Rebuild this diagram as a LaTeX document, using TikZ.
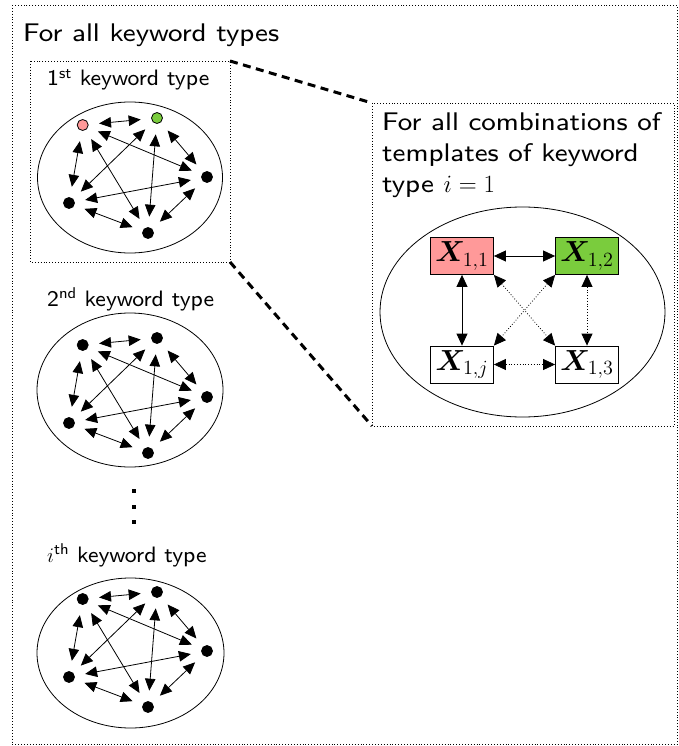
\documentclass[tikz,border=0pt]{standalone}
\usepackage{fontspec}
\usepackage{amsmath,bm}
\newfontfamily\lmsseight{lmsans8-regular.otf}
\newfontfamily\lmsswide{lmsans8-regular.otf}[FakeStretch=1.07]
\usetikzlibrary{arrows.meta}
\definecolor{pinkn}{RGB}{255,153,153}
\definecolor{greenn}{RGB}{122,204,61}
\newcommand\xlab[1]{\scalebox{1.4}{$\bm{X}_{#1}$}}
\tikzset{
  dotn/.style={circle,draw=black,line width=0.8pt,minimum size=11pt,inner sep=0pt,fill=black},
  edgen/.style={{Triangle[length=12pt,width=10.5pt]}-{Triangle[length=12pt,width=10.5pt]},line width=0.8pt,shorten <=10.5pt,shorten >=10.5pt},
  bigedge/.style={{Triangle[length=12pt,width=11pt]}-{Triangle[length=12pt,width=11pt]},line width=0.8pt},
  dotedge/.style={bigedge,dotted},
  frame/.style={draw,dotted,line width=0.9pt},
  zoomline/.style={draw,line width=3pt,dash pattern=on 8pt off 5.5pt},
  xbox/.style={draw,line width=0.8pt,minimum width=63pt,minimum height=37pt,inner sep=0pt,font=\fontsize{20.74}{25}\selectfont},
  ttl/.style={anchor=base west,inner sep=0pt,font=\lmsswide\fontsize{25.5}{30}\selectfont},
  rtl/.style={anchor=base west,inner sep=0pt,font=\lmsswide\fontsize{25.5}{30}\selectfont},
  ptl/.style={anchor=base west,inner sep=0pt,font=\lmsseight\fontsize{22.3}{26}\selectfont},
  ell/.style={draw,line width=0.8pt}
}
\newcommand\kwgraph[4]{%
  \node[dotn,fill=#3] (#1a) at (82.7,{125+#2}) {};
  \node[dotn,fill=#4] (#1b) at (157,{118+#2}) {};
  \node[dotn] (#1c) at (207,{177+#2}) {};
  \node[dotn] (#1d) at (69,{203+#2}) {};
  \node[dotn] (#1e) at (148,{233+#2}) {};
  \draw[edgen] (#1a) -- (#1b);
  \draw[edgen] (#1a) -- (#1c);
  \draw[edgen] (#1a) -- (#1d);
  \draw[edgen] (#1a) -- (#1e);
  \draw[edgen] (#1b) -- (#1c);
  \draw[edgen] (#1b) -- (#1d);
  \draw[edgen] (#1b) -- (#1e);
  \draw[edgen] (#1c) -- (#1d);
  \draw[edgen] (#1c) -- (#1e);
  \draw[edgen] (#1d) -- (#1e);
}
\begin{document}
\begin{tikzpicture}[x=1pt,y=-1pt]
\useasboundingbox (0,0) rectangle (678,746);
% outer frame
\draw[frame] (12,5) rectangle (677,744);
\node[ttl] (title) at (23,41.5) {For all keyword types};
% panel 1
\draw[frame] (30,61) rectangle (230,262);
\coordinate (p1tr) at (230,61);
\coordinate (p1br) at (230,262);
\node[ptl] (t1) at (47,86) {1\textsuperscript{st} keyword type};
\draw[ell] (130,177.5) ellipse [x radius=92.5, y radius=75.5];
\kwgraph{p}{0}{pinkn}{greenn}
% panel 2
\node[ptl] (t2) at (47,306) {2\textsuperscript{nd} keyword type};
\draw[ell] (130,390) ellipse [x radius=93, y radius=77];
\kwgraph{q}{220}{black}{black}
% vertical dots
\fill (132,489) rectangle (136,493);
\fill (132,504.5) rectangle (136,508.5);
\fill (132,520) rectangle (136,524);
% panel 3
\node[ptl] (t3) at (47,562) {$i$\textsuperscript{th} keyword type};
\draw[ell] (130.5,653) ellipse [x radius=93.5, y radius=75];
\kwgraph{r}{474}{black}{black}
% right panel
\draw[frame] (372,103) rectangle (674,426);
\coordinate (rtl) at (372,103);
\coordinate (rbl) at (372,426);
\draw[zoomline] (p1tr) -- (rtl);
\draw[zoomline] (p1br) -- (rbl);
\node[rtl] (r1) at (382,131) {For all combinations of};
\node[rtl] (r2) at (382,162) {templates of keyword};
\node[rtl] (r3) at (382,192) {type $i=1$};
\draw[ell] (522.5,312) ellipse [x radius=142.5, y radius=105];
\node[xbox,fill=pinkn] (x11) at (462,256) {\xlab{1,1}};
\node[xbox,fill=greenn] (x12) at (587,256) {\xlab{1,2}};
\node[xbox,fill=white] (x1j) at (462,364.5) {\xlab{1,j}};
\node[xbox,fill=white] (x13) at (587,364.5) {\xlab{1,3}};
\draw[bigedge] (x11) -- (x12);
\draw[bigedge] (x11) -- (x1j);
\draw[dotedge] (x12) -- (x13);
\draw[dotedge] (x1j) -- (x13);
\draw[dotedge] (x11.south east) -- (x13.north west);
\draw[dotedge] (x12.south west) -- (x1j.north east);
\end{tikzpicture}
\end{document}
